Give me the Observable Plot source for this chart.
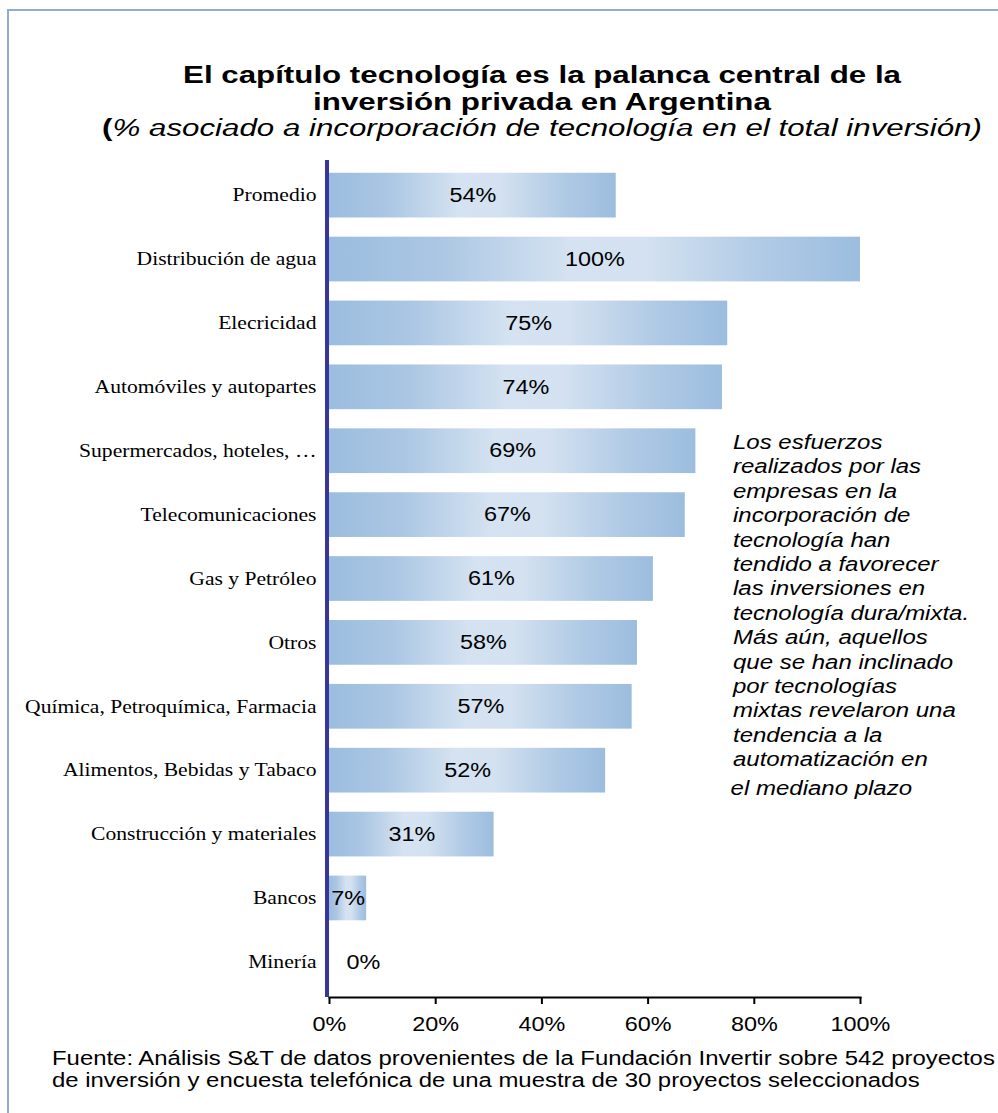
<!DOCTYPE html>
<html>
<head>
<meta charset="utf-8">
<script src="https://cdn.jsdelivr.net/npm/d3@7"></script>
<script src="https://cdn.jsdelivr.net/npm/@observablehq/plot@0.6"></script>
<style>
  html, body { margin: 0; padding: 0; background: #fff; }
  #page { position: relative; width: 998px; height: 1113px; overflow: hidden; font-family: "Liberation Sans", Arial, sans-serif; color: #000; }
  #border { position: absolute; left: 7px; top: 9px; right: -10px; bottom: -10px; border-top: 2px solid #93acd2; border-left: 2px solid #93acd2; }
  .stretch { transform: scaleX(1.2); }
  #title { position: absolute; left: 112px; width: 860px; top: 62px; text-align: center; white-space: nowrap; transform-origin: 430px 0; transform: scaleX(1.36); }
  #title .t { font-weight: bold; font-size: 23px; line-height: 26.5px; }
  #title .s { font-style: italic; font-size: 23px; line-height: 26.5px; }
  #note { position: absolute; left: 733px; top: 430px; white-space: nowrap; font-style: italic; font-size: 20px; line-height: 24.4px; transform-origin: 0 0; }
  #note .last { display: block; margin-top: 4px; margin-left: -2px; }
  #source { position: absolute; left: 52px; top: 1047px; white-space: nowrap; font-size: 20px; line-height: 22px; transform-origin: 0 0; transform: scaleX(1.195); }
  #chart { position: absolute; left: 0; top: 150px; }
</style>
</head>
<body>
<div id="page">
  <div id="border"></div>
  <div id="title">
    <div class="t">El capítulo tecnología es la palanca central de la</div>
    <div class="t">inversión privada en Argentina</div>
    <div class="s"><span style="font-style:normal;font-weight:bold">(</span>% asociado a incorporación de tecnología en el total inversión)</div>
  </div>
  <div id="chart"></div>
  <div id="note" class="stretch">Los esfuerzos<br>realizados por las<br>empresas en la<br>incorporación de<br>tecnología han<br>tendido a favorecer<br>las inversiones en<br>tecnología dura/mixta.<br>Más aún, aquellos<br>que se han inclinado<br>por tecnologías<br>mixtas revelaron una<br>tendencia a la<br>automatización en<span class="last">el mediano plazo</span></div>
  <div id="source">Fuente: Análisis S&amp;T de datos provenientes de la Fundación Invertir sobre 542 proyectos<br>de inversión y encuesta telefónica de una muestra de 30 proyectos seleccionados</div>
</div>
<script>
const categories = [
  "Promedio",
  "Distribución de agua",
  "Elecricidad",
  "Automóviles y autopartes",
  "Supermercados, hoteles, …",
  "Telecomunicaciones",
  "Gas y Petróleo",
  "Otros",
  "Química, Petroquímica, Farmacia",
  "Alimentos, Bebidas y Tabaco",
  "Construcción y materiales",
  "Bancos",
  "Minería"
];
const values = [54, 100, 75, 74, 69, 67, 61, 58, 57, 52, 31, 7, 0];
const xTicks = [0, 20, 40, 60, 80, 100];

const data = categories.map((c, i) => ({category: c, value: values[i]}));
const sans = "Liberation Sans, Arial, sans-serif";
const serif = "Liberation Serif, Times New Roman, serif";
const STRETCH = 1.2;

const chart = Plot.plot({
  width: 998,
  height: 895,
  marginLeft: 329,
  marginRight: 138,
  marginTop: 10,
  marginBottom: 48,
  style: {background: "transparent", overflow: "visible"},
  x: {domain: [0, 100], ticks: xTicks, label: null},
  y: {domain: categories, paddingInner: 0.3, paddingOuter: 0.2, round: false, label: null},
  marks: [
    Plot.barX(data, {x: "value", y: "category", fill: "url(#barGrad)"}),
    Plot.text(data.filter(d => d.value > 0), {
      x: d => d.value / 2, y: "category", text: d => d.value + "%",
      fontSize: 19.5, fontFamily: sans, fill: "#000"
    }),
    Plot.text(data.filter(d => d.value === 0), {
      x: "value", y: "category", text: d => d.value + "%", textAnchor: "start", dx: 17,
      fontSize: 19.5, fontFamily: sans, fill: "#000"
    }),
    Plot.axisY({tickSize: 0, tickPadding: 13, fontSize: 18, fontFamily: serif, label: null, color: "#000"}),
    Plot.axisX({ticks: xTicks, tickSize: 7, tickPadding: 13, strokeWidth: 2, fontSize: 19.5, fontFamily: sans,
      tickFormat: d => d + "%", label: null, color: "#000"}),
    Plot.frame({anchor: "bottom", stroke: "#000", strokeWidth: 2}),
    Plot.ruleX([0], {stroke: "#36369c", strokeWidth: 4, dx: -2.5})
  ]
});

// gradient for bars
const ns = "http://www.w3.org/2000/svg";
const defs = document.createElementNS(ns, "defs");
const grad = document.createElementNS(ns, "linearGradient");
grad.setAttribute("id", "barGrad");
grad.setAttribute("x1", "0"); grad.setAttribute("x2", "1");
grad.setAttribute("y1", "0"); grad.setAttribute("y2", "0");
[["0", "#9cbddf"], ["0.2", "#aac6e3"], ["0.45", "#d4e2f1"], ["0.6", "#d3e1f0"], ["0.82", "#b0cae5"], ["1", "#9cbddf"]].forEach(([o, c]) => {
  const s = document.createElementNS(ns, "stop");
  s.setAttribute("offset", o); s.setAttribute("stop-color", c);
  grad.appendChild(s);
});
defs.appendChild(grad);
chart.insertBefore(defs, chart.firstChild);

// horizontal stretch of text, as in the reference
chart.querySelectorAll("text").forEach(t => {
  const x = parseFloat(t.getAttribute("x")) || 0;
  const tr = t.getAttribute("transform") || "";
  t.setAttribute("transform", `${tr} translate(${x},0) scale(${STRETCH},1) translate(${-x},0)`);
});

document.getElementById("chart").appendChild(chart);
</script>
</body>
</html>
